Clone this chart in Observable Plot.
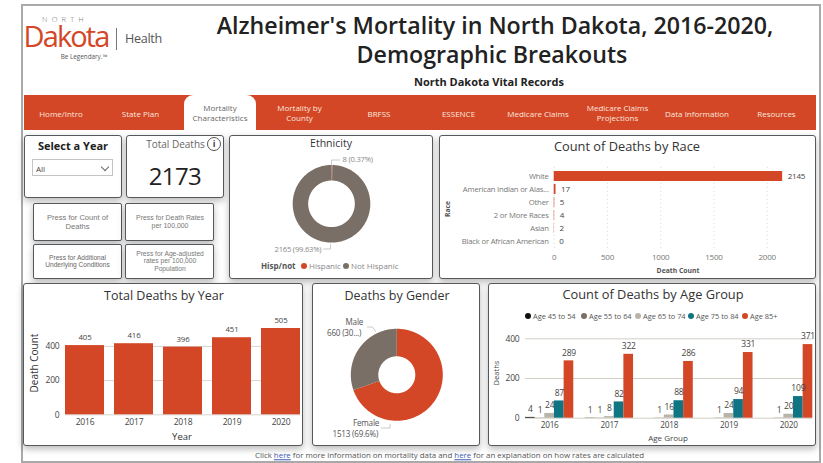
<!DOCTYPE html>
<html><head><meta charset="utf-8">
<script src="https://cdn.jsdelivr.net/npm/d3@7"></script>
<script src="https://cdn.jsdelivr.net/npm/@observablehq/plot@0.6"></script>
<style>
html,body{margin:0;padding:0;background:#fff;overflow:hidden}
#page{position:relative;width:823px;height:463px;overflow:hidden;font-family:"Open Sans",sans-serif}
#page div{position:absolute;white-space:nowrap;box-sizing:border-box}
.panel{background:#fff;border:1px solid #55595c;border-radius:3px;box-shadow:0 3px 7px rgba(0,0,0,.28)}
#page svg{position:absolute;overflow:visible;background:transparent}
</style></head><body><div id="page"></div>
<script>
// ---------- data ----------
const navItems = ["Home/Intro","State Plan","Mortality\nCharacteristics","Mortality by\nCounty","BRFSS","ESSENCE","Medicare Claims","Medicare Claims\nProjections","Data Information","Resources"];
const raceNames = ["White","American Indian or Alas...","Other","2 or More Races","Asian","Black or African American"];
const raceCounts = [2145,17,5,4,2,0];
const years = [2016,2017,2018,2019,2020];
const yearTotals = [405,416,396,451,505];
const ethnicityNames = ["Hispanic","Not Hispanic"];
const ethnicityCounts = [8,2165];
const genderNames = ["Female","Male"];
const genderCounts = [1513,660];
const ageGroups = ["Age 45 to 54","Age 55 to 64","Age 65 to 74","Age 75 to 84","Age 85+"];
const age45 = [4,1,null,null,null];
const age55 = [1,1,1,1,1];
const age65 = [24,8,16,24,20];
const age75 = [87,82,88,94,109];
const age85 = [289,322,286,331,371];
const ageSeries = [age45,age55,age65,age75,age85];
const ageColors = ["#111111","#7a6f66","#b9b4aa","#0f7583","#d34726"];
const RED = "#d34726", BROWN = "#7a6f66";
const FONT = '"Open Sans",sans-serif';
const chartStyle = {background:"transparent",fontFamily:FONT,fontSize:"8px",letterSpacing:"-.2px"};

// ---------- html helpers ----------
const page = document.getElementById("page");
function box(x,y,w,h,css,cls){const d=document.createElement("div");if(cls)d.className=cls;
  d.style.cssText=`left:${x}px;top:${y}px;width:${w}px;height:${h}px;`+(css||"");page.appendChild(d);return d;}
function txt(x,y,s,size,color,opt={}){const d=document.createElement("div");
  const a=opt.anchor||"middle";const tx=a==="middle"?"-50%":a==="end"?"-100%":"0";
  d.style.cssText=`left:${x}px;top:${y}px;transform:translate(${tx},-50%) ${opt.rot?`rotate(${opt.rot}deg)`:""};font-size:${size}px;color:${color};line-height:${opt.lh||1.2};text-align:${opt.align||"center"};font-weight:${opt.weight||400};font-family:${opt.font||FONT};letter-spacing:${opt.ls||0}px;white-space:pre;`;
  d.textContent=s;page.appendChild(d);return d;}
function place(svg,x,y){svg.style.left=x+"px";svg.style.top=y+"px";page.appendChild(svg);}

// frame
box(21,4,800,458.5,"border:2px solid #a9a9a9;background:#fff;");

// logo
txt(65,18.5,"NORTH",7.5,"#777",{ls:4.2,weight:300,lh:.9});
txt(66,36,"Dakota",29,RED,{ls:-1.9,weight:400,lh:.75});
box(115.5,28,1,22,"background:#777;");
txt(143.5,39,"Health",12.6,"#555",{ls:-.3,weight:400,lh:1});
txt(84,56.5,"Be Legendary.™",6.3,"#555",{lh:1});

// titles
txt(495,24.5,"Alzheimer's Mortality in North Dakota, 2016-2020,",23.2,"#222",{weight:600,lh:.95});
txt(492,54,"Demographic Breakouts",23.2,"#222",{weight:600,lh:.95});
txt(489,82,"North Dakota Vital Records",11,"#222",{weight:700});

// nav
box(24,95,792,35,`background:${RED};`);
box(184,95,72,35,"background:#fff;border-radius:9px 9px 0 0;");
navItems.forEach((n,i)=>txt(61+i*79.5,113.7,n,8,i===2?"#666":"#fbe6df",{lh:1.32}));

// panels
box(24,135,98,63,"","panel");
box(126,135,98,63,"","panel");
box(229,135,204,144,"","panel");
box(33,203,89,38,"border-radius:2px","panel");
box(125,203,89,38,"border-radius:2px","panel");
box(33,244,89,35,"border-radius:2px","panel");
box(125,244,89,35,"border-radius:2px","panel");
box(439,135,377,144,"","panel");
box(23,283,280,163,"","panel");
box(312,283,168,163,"","panel");
box(488,283,328,163,"","panel");

// select
txt(73,145.5,"Select a Year",11,"#222",{weight:700});
box(32,159,81,17,"border:1px solid #c4c4c4;background:#fff;");
txt(36,169,"All",8,"#444",{anchor:"start"});
box(101.5,163.5,6,6,"border-right:1px solid #666;border-bottom:1px solid #666;transform:rotate(45deg);");

// total deaths
txt(175.5,144,"Total Deaths",10,"#666");
box(207,137,14,14,"border:1.8px solid #555;border-radius:50%;background:#fff;");
txt(214,144,"i",9,"#444",{weight:700});
txt(175,176,"2173",24,"#222",{weight:500,ls:-.6});

// buttons
const LIB='"Liberation Sans",sans-serif';
txt(77.5,222,"Press for Count of\nDeaths",7.6,"#777",{font:LIB,lh:1.22});
txt(170,222,"Press for Death Rates\nper 100,000",6.9,"#777",{font:LIB,lh:1.15});
txt(77.5,261.5,"Press for Additional\nUnderlying Conditions",6.6,"#666",{font:LIB,lh:1.2});
txt(170,261.5,"Press for Age-adjusted\nrates per 100,000\nPopulation",6.7,"#777",{font:LIB,lh:1.17});

// chart headings
txt(331,143,"Ethnicity",10.5,"#333");
txt(627,146.5,"Count of Deaths by Race",12.8,"#333");
txt(164,295,"Total Deaths by Year",12.5,"#333");
txt(397,295,"Deaths by Gender",12.5,"#333");
txt(653,295,"Count of Deaths by Age Group",12.8,"#333");

// footer
const foot=txt(449.5,456,"",7.9,"#555");
foot.innerHTML='Click <span style="color:#3b5bb5;text-decoration:underline">here</span> for more information on mortality data and <span style="color:#3b5bb5;text-decoration:underline">here</span> for an explanation on how rates are calculated';

// ---------- donut helper ----------
function ring(names,values,R,r){
  const total=d3.sum(values);let acc=0;const pts=[];
  names.forEach((name,i)=>{
    const a0=acc/total*2*Math.PI;acc+=values[i];const a1=acc/total*2*Math.PI;
    const n=Math.max(2,Math.ceil((a1-a0)/(Math.PI/120)));
    for(let k=0;k<=n;k++){const t=a0+(a1-a0)*k/n;pts.push({name,x:R*Math.sin(t),y:R*Math.cos(t)});}
    for(let k=n;k>=0;k--){const t=a0+(a1-a0)*k/n;pts.push({name,x:r*Math.sin(t),y:r*Math.cos(t)});}
  });
  return pts;
}
function donut(px,py,pw,ph,cx,cy,names,values,colors,R,r,labels,leaders,labelSize){
  // x/y scales run in page pixels relative to the donut's centre
  const toRow=([X,Y,extra])=>({x:X-cx,y:cy-Y,...extra});
  const svg=Plot.plot({width:pw,height:ph,margin:0,
    x:{domain:[px-cx,px+pw-cx],axis:null},
    y:{domain:[cy-(py+ph),cy-py],axis:null},
    color:{domain:names,range:colors},
    style:chartStyle,
    marks:[
      Plot.line(ring(names,values,R,r),{x:"x",y:"y",z:"name",fill:"name",stroke:null}),
      ...leaders.map(l=>Plot.line(l.map(toRow),{x:"x",y:"y",stroke:"#bdbdbd",strokeWidth:.8})),
      Plot.text(labels.map(toRow),{x:"x",y:"y",text:"text",textAnchor:"start",fontSize:labelSize,fill:"fill"})
    ]});
  place(svg,px,py);
}
const etCx=331,etCy=203.3;
donut(229,135,204,144,etCx,etCy,ethnicityNames,ethnicityCounts,[RED,BROWN],38.8,23.3,
  [[342,159.5,{text:`${ethnicityCounts[0]} (0.37%)`,fill:"#888"}],[274,249.5,{text:`${ethnicityCounts[1]} (99.63%)`,fill:"#888"}]],
  [[[331,164.5],[331,159.5],[339,159.5]],[[323,248.5],[330,248.5],[330,244]]],7.6);
const geCx=396.3,geCy=374.3;
donut(312,283,168,163,geCx,geCy,genderNames,genderCounts,[RED,BROWN],46,18.5,
  [[345,322,{text:"Male",fill:"#555"}],[326.5,333,{text:`${genderCounts[1]} (30...)`,fill:"#555"}],
   [352.5,423,{text:"Female",fill:"#555"}],[332,433.5,{text:`${genderCounts[0]} (69.6%)`,fill:"#555"}]],
  [[[367,326.5],[372,326.5],[375,331]],[[381,427.5],[389.5,427.5],[389.5,424]]],8.1);

// ethnicity legend
txt(261,266,"Hisp/not",8,"#555",{anchor:"start",weight:700});
box(300.7,262.7,6.6,6.6,`background:${RED};border-radius:50%;`);
txt(309,266,ethnicityNames[0],8,"#888",{anchor:"start"});
box(342.7,262.7,6.6,6.6,`background:${BROWN};border-radius:50%;`);
txt(351,266,ethnicityNames[1],8,"#888",{anchor:"start"});

// ---------- race bars ----------
const raceRows=raceNames.map((name,i)=>({name,count:raceCounts[i]}));
place(Plot.plot({width:377,height:144,marginLeft:114.7,marginRight:28,marginTop:31.8,marginBottom:29.4,
  x:{domain:[0,2200]},y:{domain:raceNames,padding:.2},
  style:chartStyle,
  marks:[
    Plot.gridX({ticks:[0,500,1000,1500,2000],stroke:"#ccc",strokeOpacity:.8,strokeDasharray:"1 3"}),
    Plot.barX(raceRows,{x:"count",y:"name",fill:RED}),
    Plot.text(raceRows,{x:"count",y:"name",text:d=>String(d.count),dx:5,textAnchor:"start",fontSize:8,fill:"#444"}),
    Plot.axisY({tickSize:0,tickPadding:5.5,label:null,fill:"#777",fontSize:7.7}),
    Plot.axisX({ticks:[0,500,1000,1500,2000],tickFormat:d=>String(d),tickSize:0,tickPadding:4,label:null,fill:"#777",fontSize:8})
  ]}),439,135);
txt(448,209,"Race",6.8,"#555",{weight:700,rot:-90});
txt(678,271,"Death Count",6.8,"#555",{weight:700});

// ---------- total deaths by year ----------
const yearRows=years.map((year,i)=>({year:String(year),total:yearTotals[i]}));
place(Plot.plot({width:280,height:163,marginLeft:42,marginRight:3,marginTop:37.3,marginBottom:31.7,
  x:{domain:years.map(String),paddingInner:10/49,paddingOuter:0},y:{domain:[0,550]},
  style:chartStyle,
  marks:[
    Plot.gridY({ticks:[0,200,400],stroke:"#d8d4ce",strokeOpacity:1}),
    Plot.barY(yearRows,{x:"year",y:"total",fill:RED}),
    Plot.text(yearRows,{x:"year",y:"total",text:d=>String(d.total),dy:-8,fontSize:7.8,fill:"#444"}),
    Plot.axisY({ticks:[0,200,400],tickSize:0,tickPadding:6,label:null,fill:"#444",fontSize:8.5}),
    Plot.axisX({tickSize:0,tickPadding:4,label:null,fill:"#444",fontSize:8.5})
  ]}),23,283);
txt(33.5,363,"Death Count",10,"#333",{rot:-90});
txt(182,436.5,"Year",9.5,"#333");

// ---------- deaths by age group ----------
const groupWidth=.808,barWidth=groupWidth/ageGroups.length;
const ageRows=[];
years.forEach((year,yi)=>ageGroups.forEach((age,ai)=>{
  const deaths=ageSeries[ai][yi];
  if(deaths!=null)ageRows.push({year,age,deaths,x1:year-groupWidth/2+ai*barWidth,x2:year-groupWidth/2+(ai+1)*barWidth});
}));
place(Plot.plot({width:328,height:163,marginLeft:37,marginRight:3.7,marginTop:47.4,marginBottom:28.3,
  x:{domain:[2016-groupWidth/2,2020+groupWidth/2]},y:{domain:[0,440]},
  color:{domain:ageGroups,range:ageColors},
  style:chartStyle,
  marks:[
    Plot.gridY({ticks:[0,200,400],stroke:"#d3cec6",strokeOpacity:1}),
    Plot.rectY(ageRows,{x1:"x1",x2:"x2",y:"deaths",fill:"age"}),
    Plot.text(ageRows,{x:d=>(d.x1+d.x2)/2,y:"deaths",text:d=>String(d.deaths),dy:-8,fontSize:8.5,fill:"#444"}),
    Plot.axisY({ticks:[0,200,400],tickSize:0,tickPadding:6,label:null,fill:"#444",fontSize:8.5}),
    Plot.axisX({ticks:years,tickFormat:d=>String(d),tickSize:0,tickPadding:4,label:null,fill:"#444",fontSize:8.2})
  ]}),488,283);
txt(497,373,"Deaths",7.6,"#444",{rot:-90});
txt(668,438,"Age Group",8,"#444");
const legendDots=[528,584,638,691,745];
ageGroups.forEach((g,i)=>{
  box(legendDots[i]-3.2,312.5,6.4,6.4,`background:${ageColors[i]};border-radius:50%;`);
  txt(legendDots[i]+5,315.7,g,7.4,"#555",{anchor:"start"});
});
</script></body></html>
